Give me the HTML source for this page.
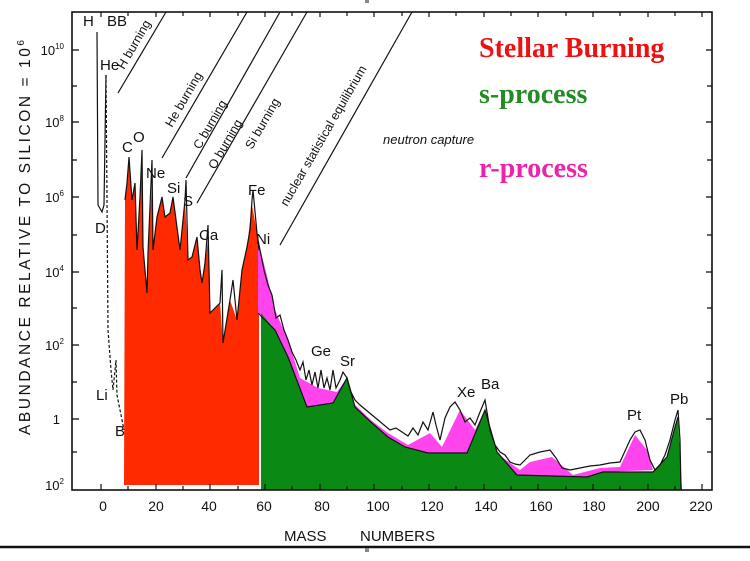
<!DOCTYPE html>
<html><head><meta charset="utf-8"><style>
html,body{margin:0;padding:0;background:#fff;width:750px;height:561px;overflow:hidden}
svg{display:block}
.t{font-family:"Liberation Sans",sans-serif;fill:#111}
</style></head><body>
<svg width="750" height="561" viewBox="0 0 750 561" xmlns="http://www.w3.org/2000/svg">
<polygon fill="#ff2a00" points="124,485 125,200 127,183 129,160 132,200 135,183 137,250 140,197 142,152 143,247 147,293 148,253 152,183 153,250 157,217 162,197 165,217 170,213 173,197 180,250 185,200 188,260 192,257 197,237 202,283 205,263 208,240 210,313 220,303 223,343 230,300 237,320 242,270 247,247 252,205 257,233 259,250 259,485"/>
<polygon fill="#ff44ee" points="258,240 268,280 275,310 288,340 300,378 318,388 337,392 347,378 355,405 372,421 388,433 408,445 430,433 442,447 460,410 475,430 485,410 467,453 428,453 405,447 388,437 372,423 355,407 347,378 333,403 307,407 288,357 275,330 258,313"/>
<polygon fill="#ff44ee" points="495,452 520,470 530,462 552,457 573,475 600,468 620,467 635,435 647,450 653,470 603,472 587,477 517,475"/>
<polygon fill="#0a8a14" points="261,313 275,330 288,357 307,407 333,403 347,378 355,407 372,423 388,437 405,447 428,453 467,453 485,410 497,452 517,475 587,477 603,472 653,472 667,457 675,427 678,417 682,490 261,490"/>
<g fill="none" stroke="#111" stroke-width="1.2">
<polyline points="125,200 127,183 129,157 132,200 135,183 137,250 140,197 142,150 143,247 147,293 148,253 152,160 153,250 157,217 162,197 165,217 170,213 173,197 180,250 185,200 186,180 188,260 192,257 197,237 200,270 202,283 205,263 208,225 210,313 220,303 222,270 223,343 230,300 233,280 237,320 242,270 247,247 250,230 252,200 253,190 257,233 259,250"/>
<polyline points="258,240 264,270 268,285 272,295 276,318 280,315 284,330 288,340 292,352 296,360 300,370 303,362 306,380 309,370 312,385 315,372 318,388 321,370 324,388 327,378 330,390 333,370 336,388 340,380 343,372 347,378 351,392 355,400 360,405 366,410 372,415 378,420 384,425 390,430 396,428 402,432 408,436 413,428 418,435 423,422 428,430 433,412 436,425 440,440 445,418 450,407 455,402 460,410 465,422 470,418 475,425 480,412 485,400 490,430 495,445 500,452 505,455 510,462 515,464 520,465 525,460 530,455 540,452 550,450 556,458 562,468 570,470 580,468 590,466 600,465 610,463 620,462 630,440 635,432 640,430 645,440 650,460 655,470 660,465 665,455 670,440 675,420 678,410 680,440 681,490"/>
<polyline points="258,313 275,330 288,357 307,407 333,403 347,378 355,407 372,423 388,437 405,447 428,453 467,453 485,410 497,452 517,475 587,477 603,472 653,472 667,457 675,427 678,417"/>
<polyline points="97,32 98,205 102,212 104,205 106,75"/>
<polyline points="106,75 107,200 108,330 111,370 113,390 116,360 117,395 124,430" stroke-dasharray="3,2"/>
<line x1="118" y1="93" x2="166" y2="12"/>
<line x1="162" y1="158" x2="247" y2="12"/>
<line x1="186" y1="178" x2="280" y2="12"/>
<line x1="197" y1="203" x2="307" y2="12"/>
<line x1="280" y1="245" x2="412" y2="12"/>
</g>
<rect x="72" y="12" width="640" height="478" fill="none" stroke="#111" stroke-width="1.6"/>
<g stroke="#111" stroke-width="1.3">
<line x1="72" y1="50" x2="79" y2="50"/><line x1="72" y1="86" x2="77" y2="86"/>
<line x1="72" y1="122" x2="79" y2="122"/><line x1="72" y1="160" x2="77" y2="160"/>
<line x1="72" y1="197" x2="79" y2="197"/><line x1="72" y1="235" x2="77" y2="235"/>
<line x1="72" y1="272" x2="79" y2="272"/><line x1="72" y1="308" x2="77" y2="308"/>
<line x1="72" y1="345" x2="79" y2="345"/><line x1="72" y1="382" x2="77" y2="382"/>
<line x1="72" y1="419" x2="79" y2="419"/><line x1="72" y1="452" x2="77" y2="452"/>
<line x1="712" y1="50" x2="706" y2="50"/><line x1="712" y1="86" x2="707" y2="86"/>
<line x1="712" y1="122" x2="706" y2="122"/><line x1="712" y1="160" x2="707" y2="160"/>
<line x1="712" y1="197" x2="706" y2="197"/><line x1="712" y1="235" x2="707" y2="235"/>
<line x1="712" y1="272" x2="706" y2="272"/><line x1="712" y1="308" x2="707" y2="308"/>
<line x1="712" y1="345" x2="706" y2="345"/><line x1="712" y1="382" x2="707" y2="382"/>
<line x1="712" y1="419" x2="706" y2="419"/><line x1="712" y1="452" x2="707" y2="452"/>
</g>
<g stroke="#111" stroke-width="1.2">
<path d="M101,490v-6M128,490v-4M156,490v-6M183,490v-4M210,490v-6M238,490v-4M265,490v-6M292,490v-4M320,490v-6M347,490v-4M374,490v-6M402,490v-4M429,490v-6M456,490v-4M484,490v-6M511,490v-4M538,490v-6M566,490v-4M593,490v-6M620,490v-4M648,490v-6M675,490v-4M702,490v-6"/>
<path d="M101,12v5M128,12v4M156,12v5M183,12v4M210,12v5M238,12v4M265,12v5M292,12v4M320,12v5M347,12v4M374,12v5M402,12v4M429,12v5M456,12v4M484,12v5M511,12v4M538,12v5M566,12v4M593,12v5M620,12v4M648,12v5M675,12v4M702,12v5"/>
</g>
<g class="t" font-size="13" text-anchor="end">
<text x="64" y="55">10<tspan font-size="8" dy="-6">10</tspan></text>
<text x="64" y="127">10<tspan font-size="8" dy="-6">8</tspan></text>
<text x="64" y="202">10<tspan font-size="8" dy="-6">6</tspan></text>
<text x="64" y="277">10<tspan font-size="8" dy="-6">4</tspan></text>
<text x="64" y="350">10<tspan font-size="8" dy="-6">2</tspan></text>
<text x="60" y="424">1</text>
<text x="64" y="490">10<tspan font-size="8" dy="-6">2</tspan></text>
</g>
<g class="t" font-size="14" text-anchor="middle">
<text x="103" y="511">0</text><text x="156" y="511">20</text><text x="209" y="511">40</text>
<text x="264" y="511">60</text><text x="322" y="511">80</text><text x="378" y="511">100</text>
<text x="432" y="511">120</text><text x="486" y="511">140</text><text x="541" y="511">160</text>
<text x="594" y="511">180</text><text x="648" y="511">200</text><text x="701" y="511">220</text>
</g>
<text class="t" x="284" y="541" font-size="15">MASS</text>
<text class="t" x="360" y="541" font-size="15">NUMBERS</text>
<text class="t" font-size="15.5" transform="translate(30,435) rotate(-90)" textLength="395">ABUNDANCE  RELATIVE  TO  SILICON = 10<tspan font-size="10" dy="-6">6</tspan></text>
<g class="t" font-size="15">
<text x="83" y="26">H</text><text x="107" y="26">BB</text><text x="100" y="70">He</text>
<text x="95" y="233">D</text><text x="96" y="400">Li</text><text x="115" y="436">B</text>
<text x="122" y="152">C</text><text x="133" y="142">O</text><text x="146" y="178">Ne</text>
<text x="167" y="193">Si</text><text x="183" y="206">S</text><text x="199" y="240">Ca</text>
<text x="248" y="195">Fe</text><text x="256" y="244">Ni</text>
<text x="311" y="356">Ge</text><text x="340" y="366">Sr</text>
<text x="457" y="397">Xe</text><text x="481" y="389">Ba</text>
<text x="627" y="420">Pt</text><text x="670" y="404">Pb</text>
</g>
<g class="t" font-size="12.5">
<text transform="translate(124,70) rotate(-60)">H burning</text>
<text transform="translate(172,128) rotate(-60)">He     burning</text>
<text transform="translate(200,150) rotate(-60)">C     burning</text>
<text transform="translate(215,170) rotate(-60)">O     burning</text>
<text transform="translate(252,150) rotate(-60)">Si   burning</text>
<text transform="translate(287,207) rotate(-60)">nuclear statistical equilibrium</text>
<text x="383" y="144" font-style="italic" font-size="13">neutron   capture</text>
</g>
<g font-family="'Liberation Serif',serif" font-weight="bold" font-size="28">
<text x="479" y="57" fill="#ee1111">Stellar Burning</text>
<text x="479" y="103" fill="#228b22">s-process</text>
<text x="479" y="177" fill="#ee22aa">r-process</text>
</g>
<line x1="0" y1="547" x2="750" y2="547" stroke="#111" stroke-width="2.5"/>
<rect x="365" y="0" width="4" height="3" fill="#888"/>
<rect x="365" y="548" width="4" height="4" fill="#888"/>
</svg>
</body></html>
